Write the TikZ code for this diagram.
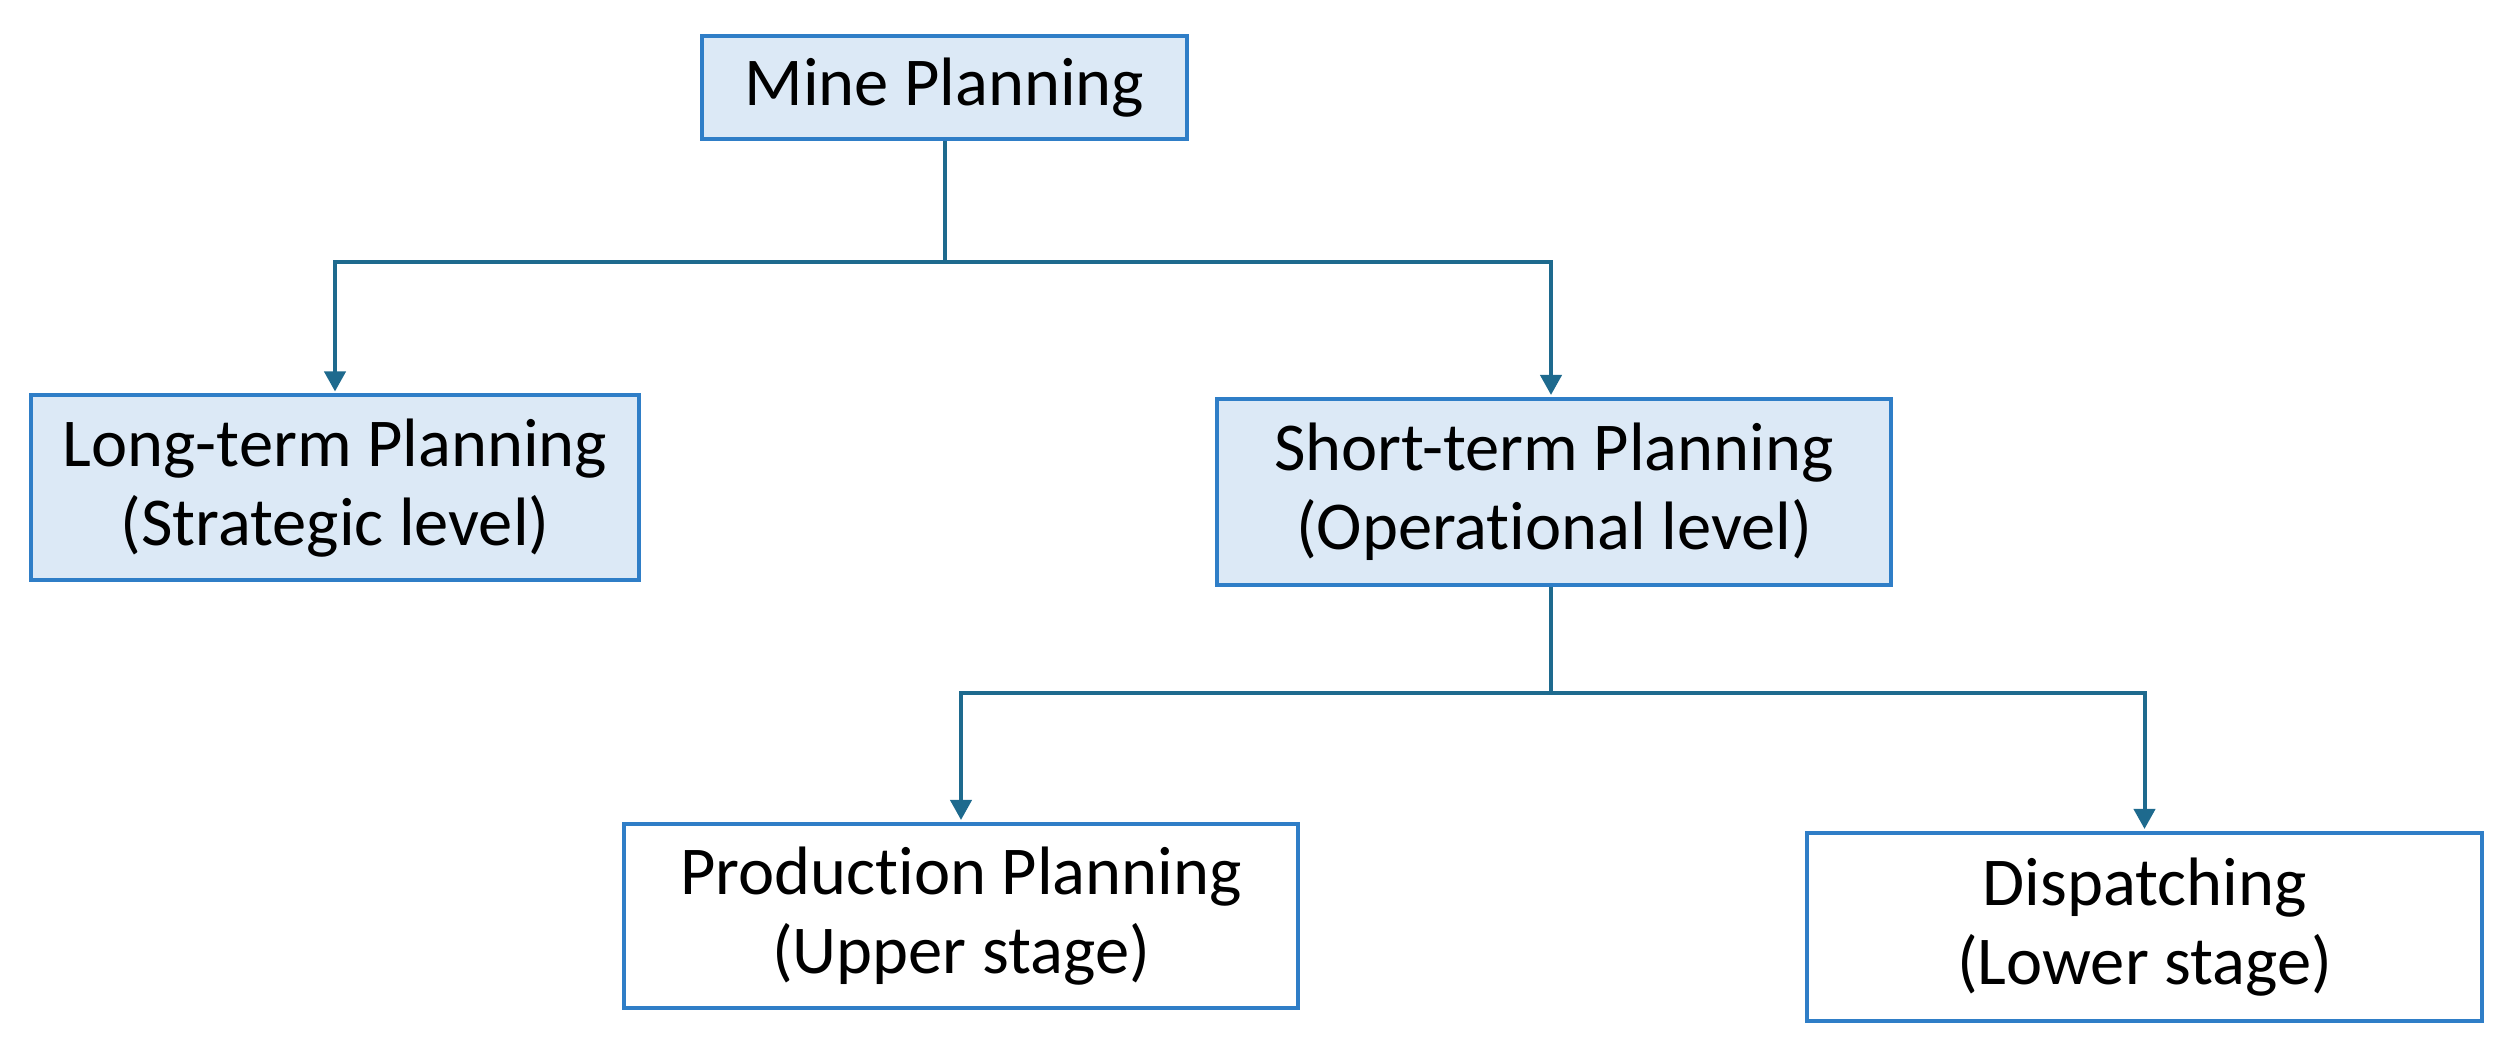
\documentclass[tikz,border=0pt]{standalone}
\usepackage{fontspec}
\setmainfont{Carlito}[Ligatures=NoCommon]
\usepackage{tikz}
\usetikzlibrary{arrows.meta, positioning, calc}
\usepackage{xcolor}
\definecolor{boxline}{HTML}{2F7EC7}
\definecolor{boxfill}{HTML}{DCE9F6}
\definecolor{linkcol}{HTML}{1E6A8E}

\tikzset{
  planbox/.style={draw=boxline, line width=4pt, align=center, inner sep=0pt,
    font=\fontsize{68.5}{79}\selectfont},
  filled/.style={planbox, fill=boxfill},
  plain/.style={planbox, fill=white},
  link/.style={draw=linkcol, line width=4pt},
  arr/.style={link, -{Triangle[length=20pt,width=21pt]}}
}

\begin{document}
\begin{tikzpicture}[x=1pt, y=1pt]
\useasboundingbox (0,0) rectangle (2513,1048);
\node (MP) [filled, minimum width=485pt, minimum height=103pt] at (944.5,960.5) {Mine Planning};
\node (LTP) [filled, minimum width=608pt, minimum height=185pt] at (335,560) {Long-term Planning\\(Strategic level)};
\node (STP) [filled, minimum width=674pt, minimum height=186pt] at (1554,556) {Short-term Planning\\(Operational level)};
\node (PP) [plain, minimum width=674pt, minimum height=184pt] at (961,132) {Production Planning\\(Upper stage)};
\node (DP) [plain, minimum width=675pt, minimum height=188pt] at (2144.5,121) {Dispatching\\(Lower stage)};

\draw[link] (MP.south) -- ++(0,-121) coordinate (J1);
\draw[arr] (J1) -| ($(LTP.north)+(0,2)$);
\draw[arr] (J1) -| ($(STP.north)+(-3,2)$);

\draw[link] ($(STP.south)+(-3,0)$) -- ++(0,-106) coordinate (J2);
\draw[arr] (J2) -| ($(PP.north)+(0,2)$);
\draw[arr] (J2) -| ($(DP.north)+(0,2)$);
\end{tikzpicture}
\end{document}
